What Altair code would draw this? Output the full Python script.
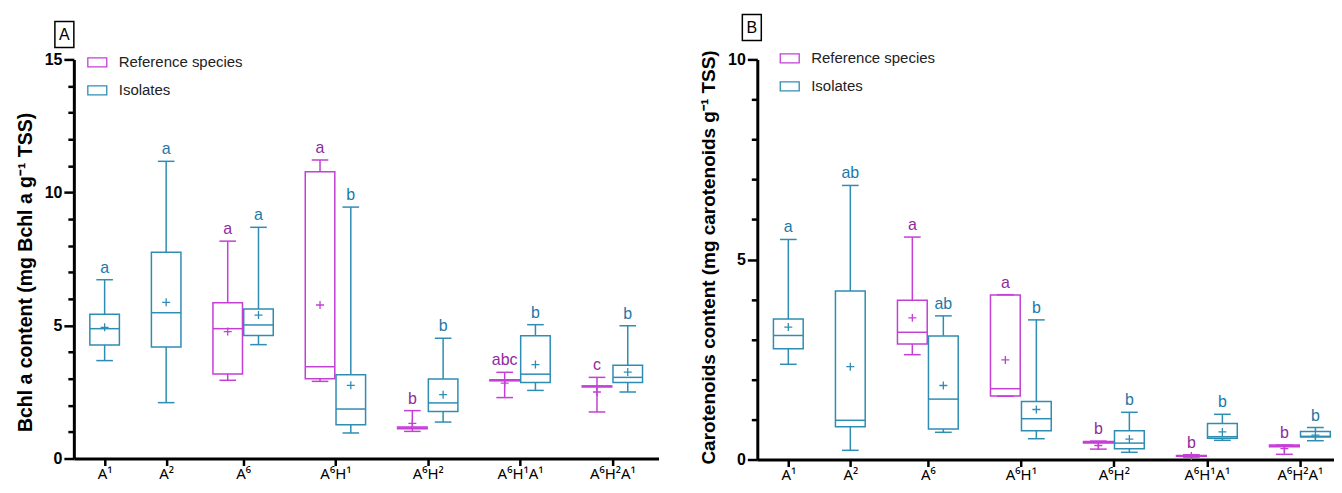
import altair as alt
import pandas as pd

groups = ["A¹", "A²", "A⁶", "A⁶H¹", "A⁶H²", "A⁶H¹A¹", "A⁶H²A¹"]
series_names = ["Reference species", "Isolates"]

# ---- Panel A: Bchl a content ----
a_iso_min = [3.68, 2.10, 4.28, 0.96, 1.37, 2.56, 2.50]
a_iso_q1 = [4.27, 4.19, 4.62, 1.27, 1.77, 2.86, 2.86]
a_iso_med = [4.88, 5.48, 5.02, 1.86, 2.09, 3.17, 3.05]
a_iso_q3 = [5.42, 7.75, 5.62, 3.15, 2.99, 4.61, 3.51]
a_iso_max = [6.72, 11.17, 8.69, 9.45, 4.52, 5.03, 4.99]
a_iso_mean = [4.93, 5.87, 5.39, 2.75, 2.40, 3.53, 3.25]
a_iso_letters = ["a", "a", "a", "b", "b", "b", "b"]

a_ref_min = [None, None, 2.94, 2.90, 1.02, 2.29, 1.75]
a_ref_q1 = [None, None, 3.18, 3.00, 1.12, 2.92, 2.69]
a_ref_med = [None, None, 4.88, 3.45, 1.15, 2.94, 2.71]
a_ref_q3 = [None, None, 5.85, 10.78, 1.18, 2.96, 2.73]
a_ref_max = [None, None, 8.17, 11.22, 1.80, 3.24, 3.05]
a_ref_mean = [None, None, 4.77, 5.77, 1.32, 2.83, 2.50]
a_ref_letters = [None, None, "a", "a", "b", "abc", "c"]

# ---- Panel B: Carotenoids content ----
b_iso_min = [2.38, 0.23, 0.68, 0.52, 0.18, 0.48, 0.47]
b_iso_q1 = [2.77, 0.82, 0.76, 0.72, 0.27, 0.53, 0.56]
b_iso_med = [3.10, 0.98, 1.51, 1.02, 0.41, 0.57, 0.58]
b_iso_q3 = [3.51, 4.21, 3.09, 1.45, 0.72, 0.90, 0.70]
b_iso_max = [5.50, 6.85, 3.59, 3.49, 1.18, 1.13, 0.80]
b_iso_mean = [3.31, 2.32, 1.85, 1.25, 0.51, 0.69, 0.61]
b_iso_letters = ["a", "ab", "ab", "b", "b", "b", "b"]

b_ref_min = [None, None, 2.62, 1.58, 0.26, 0.06, 0.13]
b_ref_q1 = [None, None, 2.89, 1.59, 0.41, 0.08, 0.32]
b_ref_med = [None, None, 3.18, 1.77, 0.43, 0.09, 0.34]
b_ref_q3 = [None, None, 3.98, 4.11, 0.45, 0.10, 0.36]
b_ref_max = [None, None, 5.56, 4.12, 0.46, 0.12, 0.36]
b_ref_mean = [None, None, 3.54, 2.49, 0.35, 0.09, 0.27]
b_ref_letters = [None, None, "a", "a", "b", "b", "b"]

REF_COL = "#C43FD6"
ISO_COL = "#2F8DB3"
REF_TXT = "#8E2A9E"
ISO_TXT = "#1B78A8"
FONT = "Liberation Sans"
XFONT = "Noto Sans"


def build(ref, iso):
    rows, centers, labels = [], [], []
    pos = 0
    for i, g in enumerate(groups):
        if ref["min"][i] is not None:
            for s, d, p in (("Reference species", ref, pos), ("Isolates", iso, pos + 1)):
                rows.append(dict(group=g, series=s, slot=p, mn=d["min"][i], q1=d["q1"][i],
                                 med=d["med"][i], q3=d["q3"][i], mx=d["max"][i],
                                 mean=d["mean"][i], letter=d["letters"][i]))
            centers.append(pos + 0.5)
            pos += 3
        else:
            rows.append(dict(group=g, series="Isolates", slot=pos, mn=iso["min"][i], q1=iso["q1"][i],
                             med=iso["med"][i], q3=iso["q3"][i], mx=iso["max"][i],
                             mean=iso["mean"][i], letter=iso["letters"][i]))
            centers.append(pos)
            pos += 2
        labels.append(g)
    df = pd.DataFrame(rows)
    df["xl"] = df["slot"] - 0.48
    df["xr"] = df["slot"] + 0.48
    df["cl"] = df["slot"] - 0.27
    df["cr"] = df["slot"] + 0.27
    return df, centers, labels


def panel(df, centers, labels, ymax, ytitle, width, height, xmax, letter, leg, box, title_y, title_size):
    xscale = alt.Scale(domain=[-1, xmax], nice=False, zero=False)
    yscale = alt.Scale(domain=[0, ymax], nice=False, zero=True)
    expr = "''"
    for c, l in reversed(list(zip(centers, labels))):
        expr = f"datum.value == {c} ? '{l}' : ({expr})"
    xaxis = alt.Axis(values=centers, labelExpr=expr, title=None, grid=False, tickSize=7,
                     tickWidth=2.5, domainWidth=3, labelFontSize=15, labelPadding=1,
                     labelFont=XFONT, labelColor="black", domainColor="black", tickColor="black",
                     labelFlush=False)
    yaxis = alt.Axis(values=list(range(0, ymax + 1)),
                     labelExpr="datum.value % 5 == 0 ? datum.label : ''",
                     tickSize={"condition": {"test": "datum.value % 5 === 0", "value": 10}, "value": 6},
                     tickWidth=2.5, domainWidth=3, grid=False, title=ytitle, titleFont=FONT,
                     titleFontSize=title_size, titleFontWeight="bold", titleColor="black",
                     labelFont=FONT, labelFontSize=16, labelFontWeight="bold", labelColor="black",
                     domainColor="black", tickColor="black", labelPadding=2, titlePadding=9,
                     titleY=title_y)
    col = alt.Color("series:N", scale=alt.Scale(domain=series_names, range=[REF_COL, ISO_COL]), legend=None)
    base = alt.Chart(df)

    def X(f):
        return alt.X(f, scale=xscale, axis=xaxis)

    def Y(f):
        return alt.Y(f, scale=yscale, axis=yaxis)

    boxes = base.mark_rect(filled=False, strokeWidth=1.5).encode(
        x=X("xl:Q"), x2="xr:Q", y=Y("q1:Q"), y2="q3:Q", stroke=col)
    up = base.mark_rule(strokeWidth=1.5).encode(x=X("slot:Q"), y=Y("q3:Q"), y2="mx:Q", color=col)
    lo = base.mark_rule(strokeWidth=1.5).encode(x=X("slot:Q"), y=Y("mn:Q"), y2="q1:Q", color=col)
    capt = base.mark_rule(strokeWidth=1.5).encode(x=X("cl:Q"), x2="cr:Q", y=Y("mx:Q"), color=col)
    capb = base.mark_rule(strokeWidth=1.5).encode(x=X("cl:Q"), x2="cr:Q", y=Y("mn:Q"), color=col)
    med = base.mark_rule(strokeWidth=1.5).encode(x=X("xl:Q"), x2="xr:Q", y=Y("med:Q"), color=col)
    mean = base.mark_point(shape="M-1,0H1M0,-1V1", filled=False, size=64, strokeWidth=1.3, opacity=1).encode(
        x=X("slot:Q"), y=Y("mean:Q"), stroke=col)
    txt = base.mark_text(baseline="alphabetic", dy=-7, fontSize=16, font=FONT).encode(
        x=X("slot:Q"), y=Y("mx:Q"), text="letter:N",
        color=alt.condition(alt.datum.series == "Isolates", alt.value(ISO_TXT), alt.value(REF_TXT)))

    one = alt.Chart(pd.DataFrame({"k": [0]}))
    lx, ly = leg
    deco = [
        one.mark_rect(filled=False, stroke=REF_COL, strokeWidth=1.3).encode(
            x=alt.value(lx), x2=alt.value(lx + 19), y=alt.value(ly - 4.5), y2=alt.value(ly + 4.5)),
        one.mark_rect(filled=False, stroke=ISO_COL, strokeWidth=1.3).encode(
            x=alt.value(lx), x2=alt.value(lx + 19), y=alt.value(ly + 23.5), y2=alt.value(ly + 32.5)),
        one.mark_text(align="left", baseline="middle", fontSize=15, font=FONT, color="#222").encode(
            x=alt.value(lx + 31), y=alt.value(ly), text=alt.value("Reference species")),
        one.mark_text(align="left", baseline="middle", fontSize=15, font=FONT, color="#222").encode(
            x=alt.value(lx + 31), y=alt.value(ly + 28), text=alt.value("Isolates")),
    ]
    bx, by = box
    deco += [
        one.mark_rect(filled=False, stroke="black", strokeWidth=1.5).encode(
            x=alt.value(bx), x2=alt.value(bx + 19), y=alt.value(by), y2=alt.value(by + 26)),
        one.mark_text(align="center", baseline="middle", fontSize=16, font=FONT, color="black").encode(
            x=alt.value(bx + 9.5), y=alt.value(by + 13.5), text=alt.value(letter)),
    ]
    return alt.layer(boxes, up, lo, capt, capb, med, mean, txt, *deco).properties(width=width, height=height)


dfA, cA, lA = build(
    dict(min=a_ref_min, q1=a_ref_q1, med=a_ref_med, q3=a_ref_q3, max=a_ref_max, mean=a_ref_mean, letters=a_ref_letters),
    dict(min=a_iso_min, q1=a_iso_q1, med=a_iso_med, q3=a_iso_q3, max=a_iso_max, mean=a_iso_mean, letters=a_iso_letters))
dfB, cB, lB = build(
    dict(min=b_ref_min, q1=b_ref_q1, med=b_ref_med, q3=b_ref_q3, max=b_ref_max, mean=b_ref_mean, letters=b_ref_letters),
    dict(min=b_iso_min, q1=b_iso_q1, med=b_iso_med, q3=b_iso_q3, max=b_iso_max, mean=b_iso_mean, letters=b_iso_letters))

pA = panel(dfA, cA, lA, 15, "Bchl a content (mg Bchl a g⁻¹ TSS)", 586, 400, 18, "A",
           (14, 3), (-19, -38), 213, 19.5)
pB = panel(dfB, cB, lB, 10, "Carotenoids content (mg carotenoids g⁻¹ TSS)", 578, 401, 17.6, "B",
           (23, -1), (-15, -45), 198, 19)

chart = alt.hconcat(pA, pB, spacing=99, bounds="flush").configure_view(stroke=None).properties(
    padding={"left": 7, "top": 5, "right": 0, "bottom": 0})

chart.save("out.html", embed_options={"renderer": "svg", "actions": False})
